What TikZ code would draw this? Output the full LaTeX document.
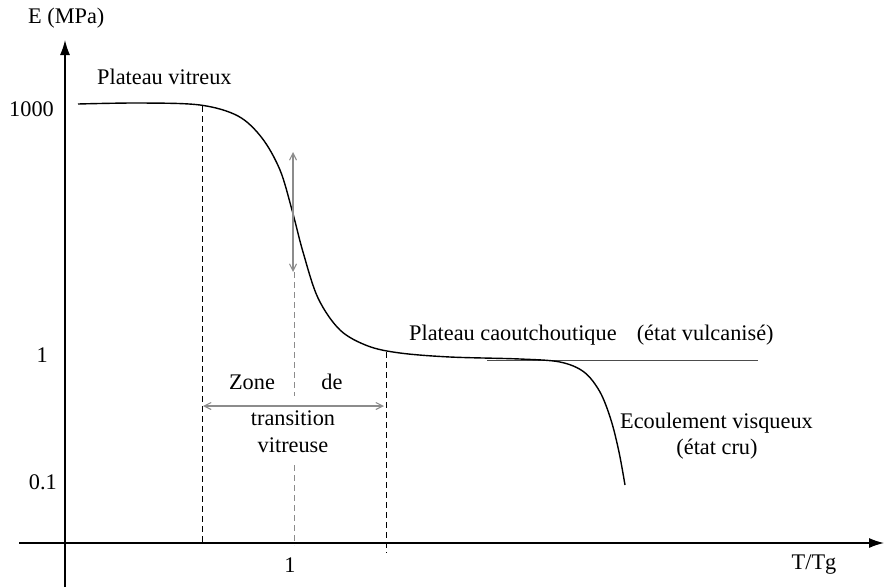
\documentclass[tikz,border=0pt]{standalone}
\usepackage{fontspec}
\setmainfont{Liberation Serif}
\usetikzlibrary{arrows.meta}
\tikzset{
  axisline/.style={line width=1.3pt, -{Latex[length=15pt,width=10pt]}},
  curveline/.style={line width=1.4pt},
  guideline/.style={line width=0.7pt, dash pattern=on 6pt off 4pt},
  grayguide/.style={guideline, draw=black!45, line width=0.9pt},
  grayarrow/.style={line width=1.1pt, draw=black!45, {Straight Barb[length=7pt,width=7pt]}-{Straight Barb[length=7pt,width=7pt]}},
  lbl/.style={inner sep=1pt, font=\fontsize{22.3}{26}\selectfont},
  wlbl/.style={lbl, fill=white}
}
\begin{document}
\begin{tikzpicture}[x=1pt,y=-1pt]
\useasboundingbox (0,0) rectangle (884,587);
% guide lines
\draw[guideline] (202,106) -- (202,543);
\draw[grayguide] (294,272) -- (294,396);
\draw[grayguide] (294,465) -- (294,545);
\draw[guideline] (386,352) -- (386,553);
% rubbery plateau reference line
\draw[line width=0.8pt, black!70] (487,360) -- (758,360);
% axes
\coordinate (xs) at (19,543); \coordinate (xe) at (884,543);
\coordinate (ys) at (65,587); \coordinate (ye) at (65,40);
\draw[axisline] (xs) -- (xe);
\draw[axisline] (ys) -- (ye);
% curve
\draw[curveline] plot[smooth, tension=0.55] coordinates {
 (78,104) (140,103) (200,105) (238,116) (262,138) (280,170) (292,210)
 (303,252) (318,298) (340,330) (368,346) (400,353) (450,357) (520,359)
 (560,362) (584,372) (600,392) (611,420) (619,452) (625,485)};
% labels
\node[lbl] (zone) at (252,382) {Zone};
\node[lbl] (de) at (332,382) {de};
\node[lbl] (tr) at (293,418) {transition};
\node[lbl] (vi) at (293,445) {vitreuse};
% gray arrows
\coordinate (va) at (293,152); \coordinate (vb) at (293,272);
\draw[grayarrow] (va) -- (vb);
\coordinate (ha) at (203,406); \coordinate (hb) at (384,406);
\draw[grayarrow] (ha) -- (hb);
\node[lbl, anchor=west] (E) at (27,18) {E (MPa)};
\node[lbl, anchor=west] (pv) at (96,77) {Plateau vitreux};
\node[lbl, anchor=east] (y1000) at (55,109) {1000};
\node[lbl, anchor=east] (y1) at (49,355) {1};
\node[lbl, anchor=east] (y01) at (58,482) {0.1};
\node[lbl] (x1) at (290,565) {1};
\node[lbl] (tt) at (814,565) {T/Tg};
\node[lbl, anchor=west] (pc) at (408,335) {Plateau caoutchoutique\hspace{0.9em}(état vulcanisé)};
\node[lbl, anchor=west] (ev) at (619,423) {Ecoulement visqueux};
\node[lbl] (ec) at (717,449) {(état cru)};
\end{tikzpicture}
\end{document}
